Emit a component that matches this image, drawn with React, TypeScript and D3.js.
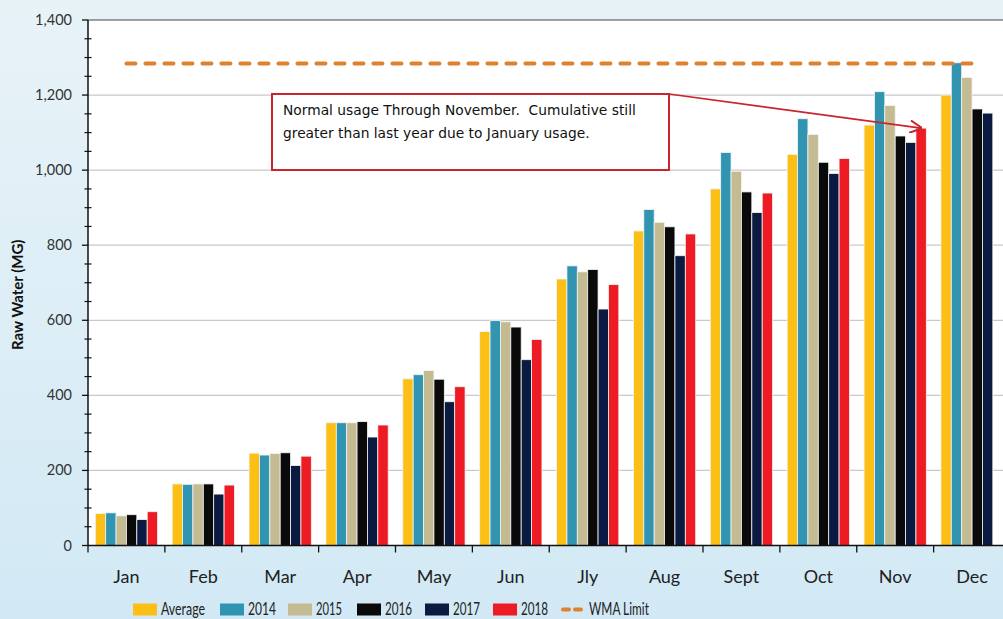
import * as d3 from "d3";

const months = ["Jan", "Feb", "Mar", "Apr", "May", "Jun", "Jly", "Aug", "Sept", "Oct", "Nov", "Dec"];
const seriesNames = ["Average", "2014", "2015", "2016", "2017", "2018"];
const seriesColors = ["#fbbf16", "#3194b0", "#c4bb93", "#0a0a0a", "#0b1a40", "#ed1c24"];

const average = [85, 164, 246, 327, 444, 570, 710, 838, 950, 1042, 1120, 1200];
const y2014 = [87, 163, 241, 327, 455, 599, 745, 895, 1047, 1137, 1209, 1286];
const y2015 = [79, 164, 245, 327, 466, 596, 729, 861, 997, 1095, 1172, 1247];
const y2016 = [82, 164, 247, 330, 443, 582, 735, 849, 942, 1021, 1091, 1163];
const y2017 = [69, 137, 213, 289, 383, 495, 630, 772, 887, 991, 1074, 1152];
const y2018: (number | null)[] = [90, 161, 238, 321, 423, 549, 695, 830, 939, 1031, 1112, null];
const wmaLimit = 1284;

const yTicks = [0, 200, 400, 600, 800, 1000, 1200, 1400];
const note = ["Normal usage Through November.  Cumulative still", "greater than last year due to January usage."];

const W = 1003;
const H = 619;
const left = 88;
const top = 20;
const bottom = 545.5;
const right = 1010.5;
const font = "Lato, 'Open Sans', sans-serif";

const App = () => {
  const series = [average, y2014, y2015, y2016, y2017, y2018];

  const y = d3.scaleLinear().domain([0, 1400]).range([bottom, top]);
  const x0 = d3.scaleBand().domain(months).range([left, right]).paddingInner(0.19).paddingOuter(0.095);
  const x1 = d3.scaleBand().domain(seriesNames).range([0, x0.bandwidth()]);
  const step = x0.step();
  const minorTicks = d3.range(0, 1401, 50).filter((v) => v % 200 !== 0);

  const lineX1 = x0(months[0])! + x0.bandwidth() / 2;
  const lineX2 = x0(months[11])! + x0.bandwidth() / 2;

  // annotation target: Nov 2018 bar top
  const tipX = x0("Nov")! + x1("2018")! + x1.bandwidth() / 2;
  const tipY = y(y2018[10]!);
  const box = { x: 272, y: 94, w: 397, h: 76 };

  const legendX = [133, 220, 288, 357, 425, 493, 560];
  const legendTextW = [44, 28, 26, 27, 27, 27];
  const legendY = 614.5;

  return (
    <svg width={W} height={H} style={{ position: "absolute", left: 0, top: 0 }}>
      <defs>
        <linearGradient id="bg" x1="0" y1="0" x2="0" y2="1">
          <stop offset="0" stopColor="#e8f3f8" />
          <stop offset="1" stopColor="#d2e9f5" />
        </linearGradient>
        <marker id="arrow" viewBox="0 0 10 10" refX="9" refY="5" markerWidth="8" markerHeight="8" orient="auto">
          <path d="M0,0 L10,5 L0,10" fill="none" stroke="#c8252c" strokeWidth="1.6" />
        </marker>
      </defs>
      <rect x={0} y={0} width={W} height={H} fill="url(#bg)" />
      <rect x={left} y={top} width={W - left} height={bottom - top} fill="#fff" />

      {/* gridlines */}
      {yTicks.slice(1, -1).map((t) => (
        <line key={t} x1={left} x2={W} y1={y(t)} y2={y(t)} stroke="#c9c9c9" strokeWidth={1.2} />
      ))}
      <line x1={left} x2={W} y1={y(1400)} y2={y(1400)} stroke="#444" strokeWidth={1.2} />

      {/* bars */}
      {months.map((m, i) => (
        <g key={m} transform={`translate(${x0(m)},0)`}>
          {series.map((s, j) =>
            s[i] == null ? null : (
              <rect
                key={j}
                x={x1(seriesNames[j])}
                y={y(s[i] as number)}
                width={x1.bandwidth()}
                height={bottom - y(s[i] as number)}
                fill={seriesColors[j]}
                stroke="#f4f4f4"
                strokeWidth={0.8}
              />
            )
          )}
        </g>
      ))}

      {/* WMA limit */}
      <line
        x1={lineX1}
        x2={lineX2}
        y1={y(wmaLimit)}
        y2={y(wmaLimit)}
        stroke="#e0812e"
        strokeWidth={4}
        strokeDasharray="9,10"
        strokeLinecap="round"
      />

      {/* axes */}
      <line x1={left} x2={left} y1={top} y2={bottom} stroke="#111" strokeWidth={1.5} />
      <line x1={left} x2={W} y1={bottom} y2={bottom} stroke="#111" strokeWidth={1.5} />
      {yTicks.map((t) => (
        <g key={t}>
          <line x1={left - 6} x2={left} y1={y(t)} y2={y(t)} stroke="#111" strokeWidth={1.3} />
          <text x={72} y={y(t) + 5} textAnchor="end" fontFamily={font} fontSize={14.5} fill="#333">
            {d3.format(",")(t)}
          </text>
        </g>
      ))}
      {minorTicks.map((t) => (
        <line key={t} x1={left - 3.5} x2={left + 3.5} y1={y(t)} y2={y(t)} stroke="#111" strokeWidth={1.2} />
      ))}
      {d3.range(0, 13).map((k) => (
        <line key={k} x1={left + k * step} x2={left + k * step} y1={bottom} y2={bottom + 7} stroke="#111" strokeWidth={1.3} />
      ))}
      {months.map((m) => (
        <text
          key={m}
          x={x0(m)! + x0.bandwidth() / 2}
          y={583}
          textAnchor="middle"
          fontFamily={font}
          fontSize={18}
          fill="#222"
        >
          {m}
        </text>
      ))}
      <text
        transform={`translate(23,${(top + bottom) / 2 + 12}) rotate(-90)`}
        textAnchor="middle"
        fontFamily={font}
        fontWeight="bold"
        fontSize={15}
        fill="#111"
      >
        Raw Water (MG)
      </text>

      {/* annotation */}
      <rect x={box.x} y={box.y} width={box.w} height={box.h} fill="#fff" stroke="#c8252c" strokeWidth={2} />
      <line
        x1={box.x + box.w}
        y1={box.y}
        x2={tipX}
        y2={tipY}
        stroke="#c8252c"
        strokeWidth={1.6}
        markerEnd="url(#arrow)"
      />
      {note.map((t, i) => (
        <text
          key={i}
          x={283}
          y={115 + i * 23}
          fontFamily="'DejaVu Sans', sans-serif"
          fontSize={13.8}
          fill="#111"
          style={{ whiteSpace: "pre" }}
        >
          {t}
        </text>
      ))}

      {/* legend */}
      {seriesNames.map((n, j) => (
        <g key={n}>
          <rect x={legendX[j]} y={legendY - 11} width={24} height={12} fill={seriesColors[j]} />
          <text
            x={legendX[j] + 28}
            y={legendY}
            fontFamily={font}
            fontSize={17}
            fill="#222"
            textLength={legendTextW[j]}
            lengthAdjust="spacingAndGlyphs"
          >
            {n}
          </text>
        </g>
      ))}
      <line
        x1={legendX[6] + 3}
        x2={legendX[6] + 21}
        y1={legendY - 5}
        y2={legendY - 5}
        stroke="#e0812e"
        strokeWidth={4}
        strokeDasharray="6,6"
        strokeLinecap="round"
      />
      <text
        x={legendX[6] + 29}
        y={legendY}
        fontFamily={font}
        fontSize={17}
        fill="#222"
        textLength={60}
        lengthAdjust="spacingAndGlyphs"
      >
        WMA Limit
      </text>
    </svg>
  );
};

export default App;
